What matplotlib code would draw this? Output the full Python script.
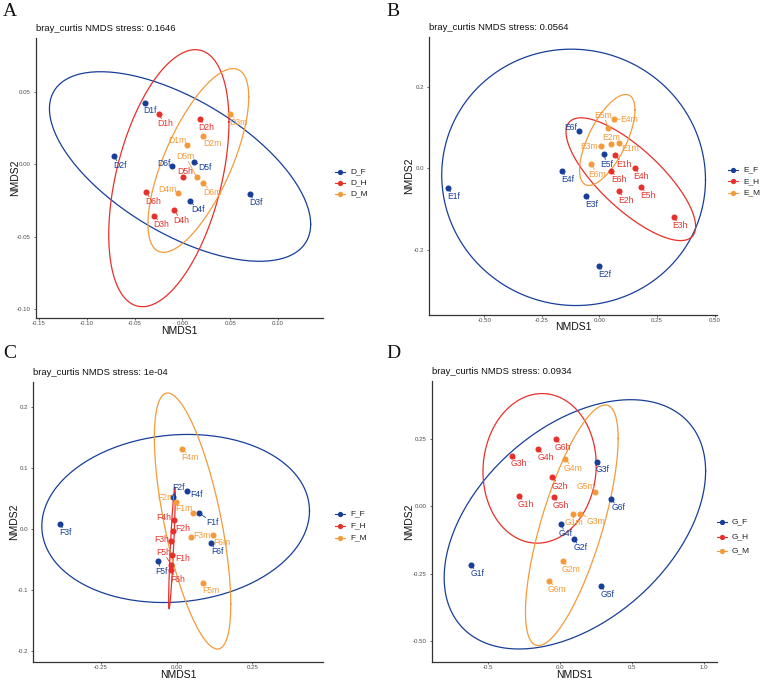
import numpy as np
import matplotlib
matplotlib.use("Agg")
import matplotlib.pyplot as plt
from matplotlib.lines import Line2D

plt.rcParams['font.family'] = ['Liberation Sans', 'DejaVu Sans']

# ---------------- data ----------------
A_names = ["D1f", "D2f", "D3f", "D4f", "D5f", "D6f",
           "D1h", "D2h", "D3h", "D4h", "D5h", "D6h",
           "D1m", "D2m", "D3m", "D4m", "D5m", "D6m"]
A_x = [-0.0388, -0.0716, 0.0705, 0.0080, 0.0122, -0.0105,
       -0.0248, 0.0180, -0.0293, -0.0084, 0.0003, -0.0380,
       0.0052, 0.0213, 0.0503, -0.0049, 0.0150, 0.0213]
A_y = [0.0424, 0.0055, -0.0207, -0.0253, 0.0018, -0.0009,
       0.0343, 0.0309, -0.0355, -0.0318, -0.0088, -0.0194,
       0.0131, 0.0194, 0.0348, -0.0200, -0.0090, -0.0129]

B_names = ["E1f", "E2f", "E3f", "E4f", "E5f", "E6f",
           "E1h", "E2h", "E3h", "E4h", "E5h", "E6h",
           "E1m", "E2m", "E3m", "E4m", "E5m", "E6m"]
B_x = [-0.659, -0.004, -0.059, -0.163, 0.019, -0.091,
       0.069, 0.084, 0.322, 0.153, 0.181, 0.052,
       0.084, 0.049, 0.006, 0.061, 0.039, -0.036]
B_y = [-0.047, -0.238, -0.067, -0.0065, 0.036, 0.092,
       0.032, -0.056, -0.119, 0.0016, -0.045, -0.0065,
       0.063, 0.059, 0.055, 0.121, 0.099, 0.011]

C_names = ["F1f", "F2f", "F3f", "F4f", "F5f", "F6f",
           "F1h", "F2h", "F3h", "F4h", "F5h", "F6h",
           "F1m", "F2m", "F3m", "F4m", "F5m", "F6m"]
C_x = [0.0738, -0.0132, -0.385, 0.034, -0.0606, 0.113,
       -0.0143, -0.0132, -0.0176, -0.0099, -0.0176, -0.0198,
       0.055, -0.001, 0.046, 0.0187, 0.088, 0.121]
C_y = [0.0262, 0.053, 0.0087, 0.0628, -0.053, -0.0224,
       -0.042, -0.0038, -0.0202, 0.0142, -0.0585, -0.0678,
       0.0268, 0.0448, -0.0131, 0.1317, -0.088, -0.0104]

D_names = ["G1f", "G2f", "G3f", "G4f", "G5f", "G6f",
           "G1h", "G2h", "G3h", "G4h", "G5h", "G6h",
           "G1m", "G2m", "G3m", "G4m", "G5m", "G6m"]
D_x = [-0.616, 0.098, 0.258, 0.010, 0.288, 0.358,
       -0.284, -0.050, -0.331, -0.148, -0.041, -0.027,
       0.093, 0.022, 0.144, 0.040, 0.246, -0.071]
D_y = [-0.218, -0.122, 0.166, -0.064, -0.295, 0.0276,
       0.040, 0.109, 0.188, 0.212, 0.034, 0.251,
       -0.027, -0.203, -0.027, 0.174, 0.054, -0.276]

titles = ["bray_curtis NMDS stress: 0.1646", "bray_curtis NMDS stress: 0.0564",
          "bray_curtis NMDS stress: 1e-04", "bray_curtis NMDS stress: 0.0934"]
panel_letters = ["A", "B", "C", "D"]
legend_prefix = ["D", "E", "F", "G"]
group_keys = ["F", "H", "M"]

A_xticks = [-0.15, -0.10, -0.05, 0.00, 0.05, 0.10]
A_yticks = [-0.10, -0.05, 0.00, 0.05]
B_xticks = [-0.50, -0.25, 0.00, 0.25, 0.50]
B_yticks = [-0.2, 0.0, 0.2]
C_xticks = [-0.25, 0.00, 0.25]
C_yticks = [-0.2, -0.1, 0.0, 0.1, 0.2]
D_xticks = [-0.5, 0.0, 0.5, 1.0]
D_yticks = [-0.50, -0.25, 0.00, 0.25]

# ---------------- layout / style ----------------
colors = {"F": "#173F99", "H": "#E8302A", "M": "#F49A3A"}
label_off = {
    "A": [(4.7, -7.3), (6.3, -9.3), (6, -8.7), (8, -8.7), (10.7, -6), (-8, 1.7),
          (6.3, -9), (7, -8), (7, -9), (6.7, -10), (2.3, 5.3), (6.7, -9.3),
          (-10, 4.7), (9.7, -7.3), (8, -9), (-10.3, 4), (-11, 20.7), (9.7, -9.7)],
    "B": [(6, -9), (6, -8.7), (6, -8.3), (6.3, -8.3), (2.7, -10.7), (-8, 3.3),
          (8.3, -9), (6.7, -8.7), (6.3, -8.7), (6.7, -9), (6.7, -8.7), (7, -8.3),
          (11.7, -6), (0, 7), (-11.3, -0.7), (16, -0.3), (-5, 12.7), (6, -10.3)],
    "C": [(13.3, -9), (5.7, 9), (5.3, -9), (9.3, -3.7), (2.7, -9.7), (6.3, -9.3),
          (10.7, -3.7), (9.7, 3.3), (-9.7, 2), (-9.7, 3), (-7.7, 12), (7, -9.3),
          (-9.7, 4), (-10.7, 4), (11, 2), (8, -9), (7.7, -7.7), (8.7, -6.7)],
    "D": [(6.7, -8.3), (7, -8.7), (6, -8), (4.3, -10.3), (6, -8.3), (7, -9),
          (7.3, -8.7), (7.3, -9), (7, -8.3), (7.3, -8.3), (7.3, -8), (7.3, -8.7),
          (0.7, -9.3), (8, -8.3), (15.3, -7.7), (8, -9), (-9, 5.3), (8, -8.7)],
}
W, H = 767, 680
axes_px = {  # left, top, right, bottom in pixels
    "A": (36, 38, 323, 318),
    "B": (429, 37, 717, 315),
    "C": (33, 382, 323, 662),
    "D": (432, 381, 717, 662),
}
xlims = {"A": (-0.153, 0.147), "B": (-0.74, 0.51), "C": (-0.474, 0.483), "D": (-0.887, 1.093)}
ylims = {"A": (-0.106, 0.087), "B": (-0.359, 0.322), "C": (-0.218, 0.241), "D": (-0.577, 0.465)}
letter_pos = {"A": (3, 12), "B": (386, 12), "C": (3, 353), "D": (386, 353)}
legend_pos = {"A": (340, 172, 11), "B": (733, 170, 11.5), "C": (340, 514, 12), "D": (722, 522, 14.5)}
xlabel_dy = 12.5    # px below the x axis line (label centre)
ylabel_dx = {"A": 21, "B": 19.5, "C": 19, "D": 22.5}


def cov_trob(x, nu=5, maxit=25, tol=0.01):
    n, p = x.shape
    wt = np.ones(n)
    loc = x.mean(axis=0)
    w = np.sqrt(wt)
    X = x - loc
    for _ in range(maxit):
        w0 = w
        X = x - loc
        _, d, vt = np.linalg.svd(np.sqrt(w / w.sum())[:, None] * X, full_matrices=False)
        wX = X @ vt.T @ np.diag(1.0 / d)
        Q = (wX ** 2).sum(axis=1)
        w = (wt * (nu + p)) / (nu + Q)
        loc = (w[:, None] * x).sum(axis=0) / w.sum()
        if np.all(np.abs(w - w0) < tol):
            break
    sX = np.sqrt(w)[:, None] * X
    cov = sX.T @ sX / wt.sum()
    return loc, cov


def ellipse_pts(x, y, level=0.95, seg=200):
    data = np.column_stack([x, y])
    n = len(x)
    center, shape = cov_trob(data)
    dfn, dfd = 2, n - 1
    qf = (dfd / 2.0) * ((1 - level) ** (-2.0 / dfd) - 1)  # F(2, dfd) quantile
    radius = np.sqrt(dfn * qf)
    R = np.linalg.cholesky(shape).T
    ang = np.linspace(0, 2 * np.pi, seg + 1)
    circ = np.column_stack([np.cos(ang), np.sin(ang)])
    e = center + radius * (circ @ R)
    return e[:, 0], e[:, 1]


fig = plt.figure(figsize=(W / 100, H / 100), dpi=100)

panels = [("A", A_names, A_x, A_y, A_xticks, A_yticks),
          ("B", B_names, B_x, B_y, B_xticks, B_yticks),
          ("C", C_names, C_x, C_y, C_xticks, C_yticks),
          ("D", D_names, D_x, D_y, D_xticks, D_yticks)]

for i, (key, names, xs, ys, xt, yt) in enumerate(panels):
    l, t, r, b = axes_px[key]
    ax = fig.add_axes([l / W, 1 - b / H, (r - l) / W, (b - t) / H])
    xs = np.array(xs); ys = np.array(ys)
    grp = np.array([n[-1].upper() for n in names])
    for g in group_keys:
        m = grp == g
        ex, ey = ellipse_pts(xs[m], ys[m])
        ax.plot(ex, ey, color=colors[g], lw=0.9, zorder=1)
    for g in group_keys:
        m = grp == g
        ax.scatter(xs[m], ys[m], s=19, color=colors[g], zorder=3, linewidths=0)
    for j, nm in enumerate(names):
        c = colors[nm[-1].upper()]
        dx, dy = label_off[key][j]
        ax.annotate(nm, (xs[j], ys[j]), xytext=(dx, dy), textcoords='offset pixels',
                    ha='center', va='center', fontsize=6.2, color=c, zorder=4,
                    bbox=dict(boxstyle='square,pad=0.05', fc='none', ec='none'),
                    arrowprops=dict(arrowstyle='-', color=c, lw=0.6, shrinkA=0, shrinkB=0))
    ax.set_xlim(*xlims[key]); ax.set_ylim(*ylims[key])
    ax.set_xticks(xt); ax.set_yticks(yt)
    dec_x = {"A": 2, "B": 2, "C": 2, "D": 1}[key]
    dec_y = {"A": 2, "B": 1, "C": 1, "D": 2}[key]
    ax.set_xticklabels([f"{v:.{dec_x}f}" for v in xt])
    ax.set_yticklabels([f"{v:.{dec_y}f}" for v in yt])
    for s in ["top", "right"]:
        ax.spines[s].set_visible(False)
    for s in ["left", "bottom"]:
        ax.spines[s].set_color("#333333"); ax.spines[s].set_linewidth(0.9)
    ax.tick_params(labelsize=4.4, colors="#4D4D4D", length=1.6, width=0.6)
    ax.tick_params(axis='x', pad=0.4)
    ax.tick_params(axis='y', pad=2.0)
    ax.set_xlabel("NMDS1", fontsize=7.5, color="#111111", va='center')
    ax.set_ylabel("NMDS2", fontsize=7.5, color="#111111", va='center')
    ax.xaxis.set_label_coords(0.5, -xlabel_dy / (b - t))
    ax.yaxis.set_label_coords(-ylabel_dx[key] / (r - l), 0.5)
    ax.set_title(titles[i], loc='left', fontsize=6.8, color="#111111", pad=5)

    lx, ly, lsp = legend_pos[key]
    for k, g in enumerate(group_keys):
        yy = 1 - (ly + k * lsp) / H
        fig.add_artist(Line2D([(lx - 5) / W, (lx + 5) / W], [yy, yy], color=colors[g], lw=0.8,
                              transform=fig.transFigure))
        fig.add_artist(Line2D([lx / W], [yy], marker='o', ms=3.8, color=colors[g], mec='none',
                              transform=fig.transFigure))
        fig.text((lx + 10) / W, yy, f"{legend_prefix[i]}_{g}", fontsize=6, color="#222222",
                 va='center', ha='left')

    px, py = letter_pos[key]
    fig.text(px / W, 1 - py / H, panel_letters[i], fontsize=14, family='Liberation Serif',
             va='center', ha='left', color="#111111")

fig.savefig("out.png", dpi=100)
